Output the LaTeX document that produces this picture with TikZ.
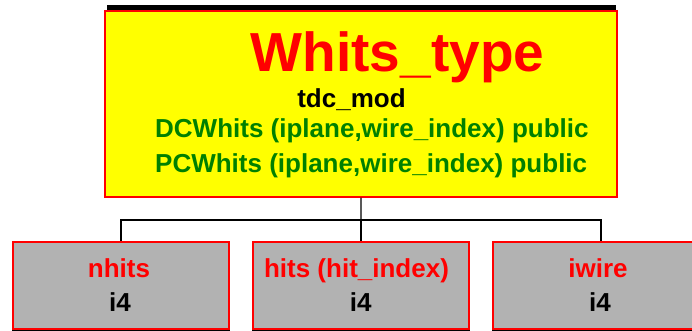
\documentclass[tikz,border=0pt]{standalone}
\usepackage{fontspec}
\setmainfont{Liberation Sans}
\definecolor{typeyellow}{RGB}{255,255,0}
\definecolor{fieldgray}{RGB}{178,178,178}
\definecolor{pubgreen}{RGB}{0,128,0}

\tikzset{
  typebox/.style={draw=red, line width=2pt, fill=typeyellow, inner sep=0pt,
    minimum width=512pt, minimum height=186pt},
  fieldbox/.style={draw=red, line width=1.8pt, fill=fieldgray, inner sep=0pt,
    minimum width=216.6pt, minimum height=87.6pt},
  shade/.style={draw=black, fill=black},
  txt/.style={inner sep=0pt, anchor=base, font=\bfseries\fontsize{26}{26}\selectfont},
  conn/.style={line width=1.3pt}
}

\begin{document}
\begin{tikzpicture}[x=1pt, y=-1pt]
	  \useasboundingbox (0,0) rectangle (692,331);
	  \clip (0,0) rectangle (692,331);
	  % shadows behind the boxes
	  \node [typebox, shade, minimum width=507pt] (whitsshade) at (361.2,99) {};
	  \node [fieldbox, shade, line width=1pt] (nhitsshade) at (121,287) {};
	  \node [fieldbox, shade, line width=1pt] (hitsshade) at (361,287) {};
	  \node [fieldbox, shade, line width=1pt] (iwireshade) at (601,287) {};
	  % the type and its fields
	  \node [typebox] (whits) at (360.9,103.7) {};
	  \node [fieldbox] (nhits) at (121,285.5) {};
	  \node [fieldbox] (hits) at (361,285.5) {};
	  \node [fieldbox] (iwire) at (601,285.5) {};
	  % texts of the type
	  \node [txt, text=red, font=\bfseries\fontsize{55}{55}\selectfont] (title) at (397.5,72) {Whits\_type};
	  \node [txt] (module) at (351.5,108) {tdc\_mod};
	  \node [txt, anchor=base west, text=pubgreen] (dcw) at (155,138) {DCWhits (iplane,wire\_index) public};
	  \node [txt, anchor=base west, text=pubgreen] (pcw) at (155,172) {PCWhits (iplane,wire\_index) public};
	  % texts of the fields
	  \node [txt, text=red] (nhitsname) at (119,277) {nhits};
	  \node [txt, text=red] (hitsname) at (356.5,277) {hits (hit\_index)};
	  \node [txt, text=red] (iwirename) at (598,277) {iwire};
	  \node [txt] (nhitskind) at (120,311.7) {i4};
	  \node [txt] (hitskind) at (360.7,311.7) {i4};
	  \node [txt] (iwirekind) at (600,311.7) {i4};
	  % connectors
	  \coordinate (split) at (361,220);
	  \draw [conn] (whits.south) -- (split);
	  \draw [conn] (nhits.north) |- (split) -| (iwire.north);
	  \draw [conn] (split) -- (hits.north);
	 \end{tikzpicture}
\end{document}
